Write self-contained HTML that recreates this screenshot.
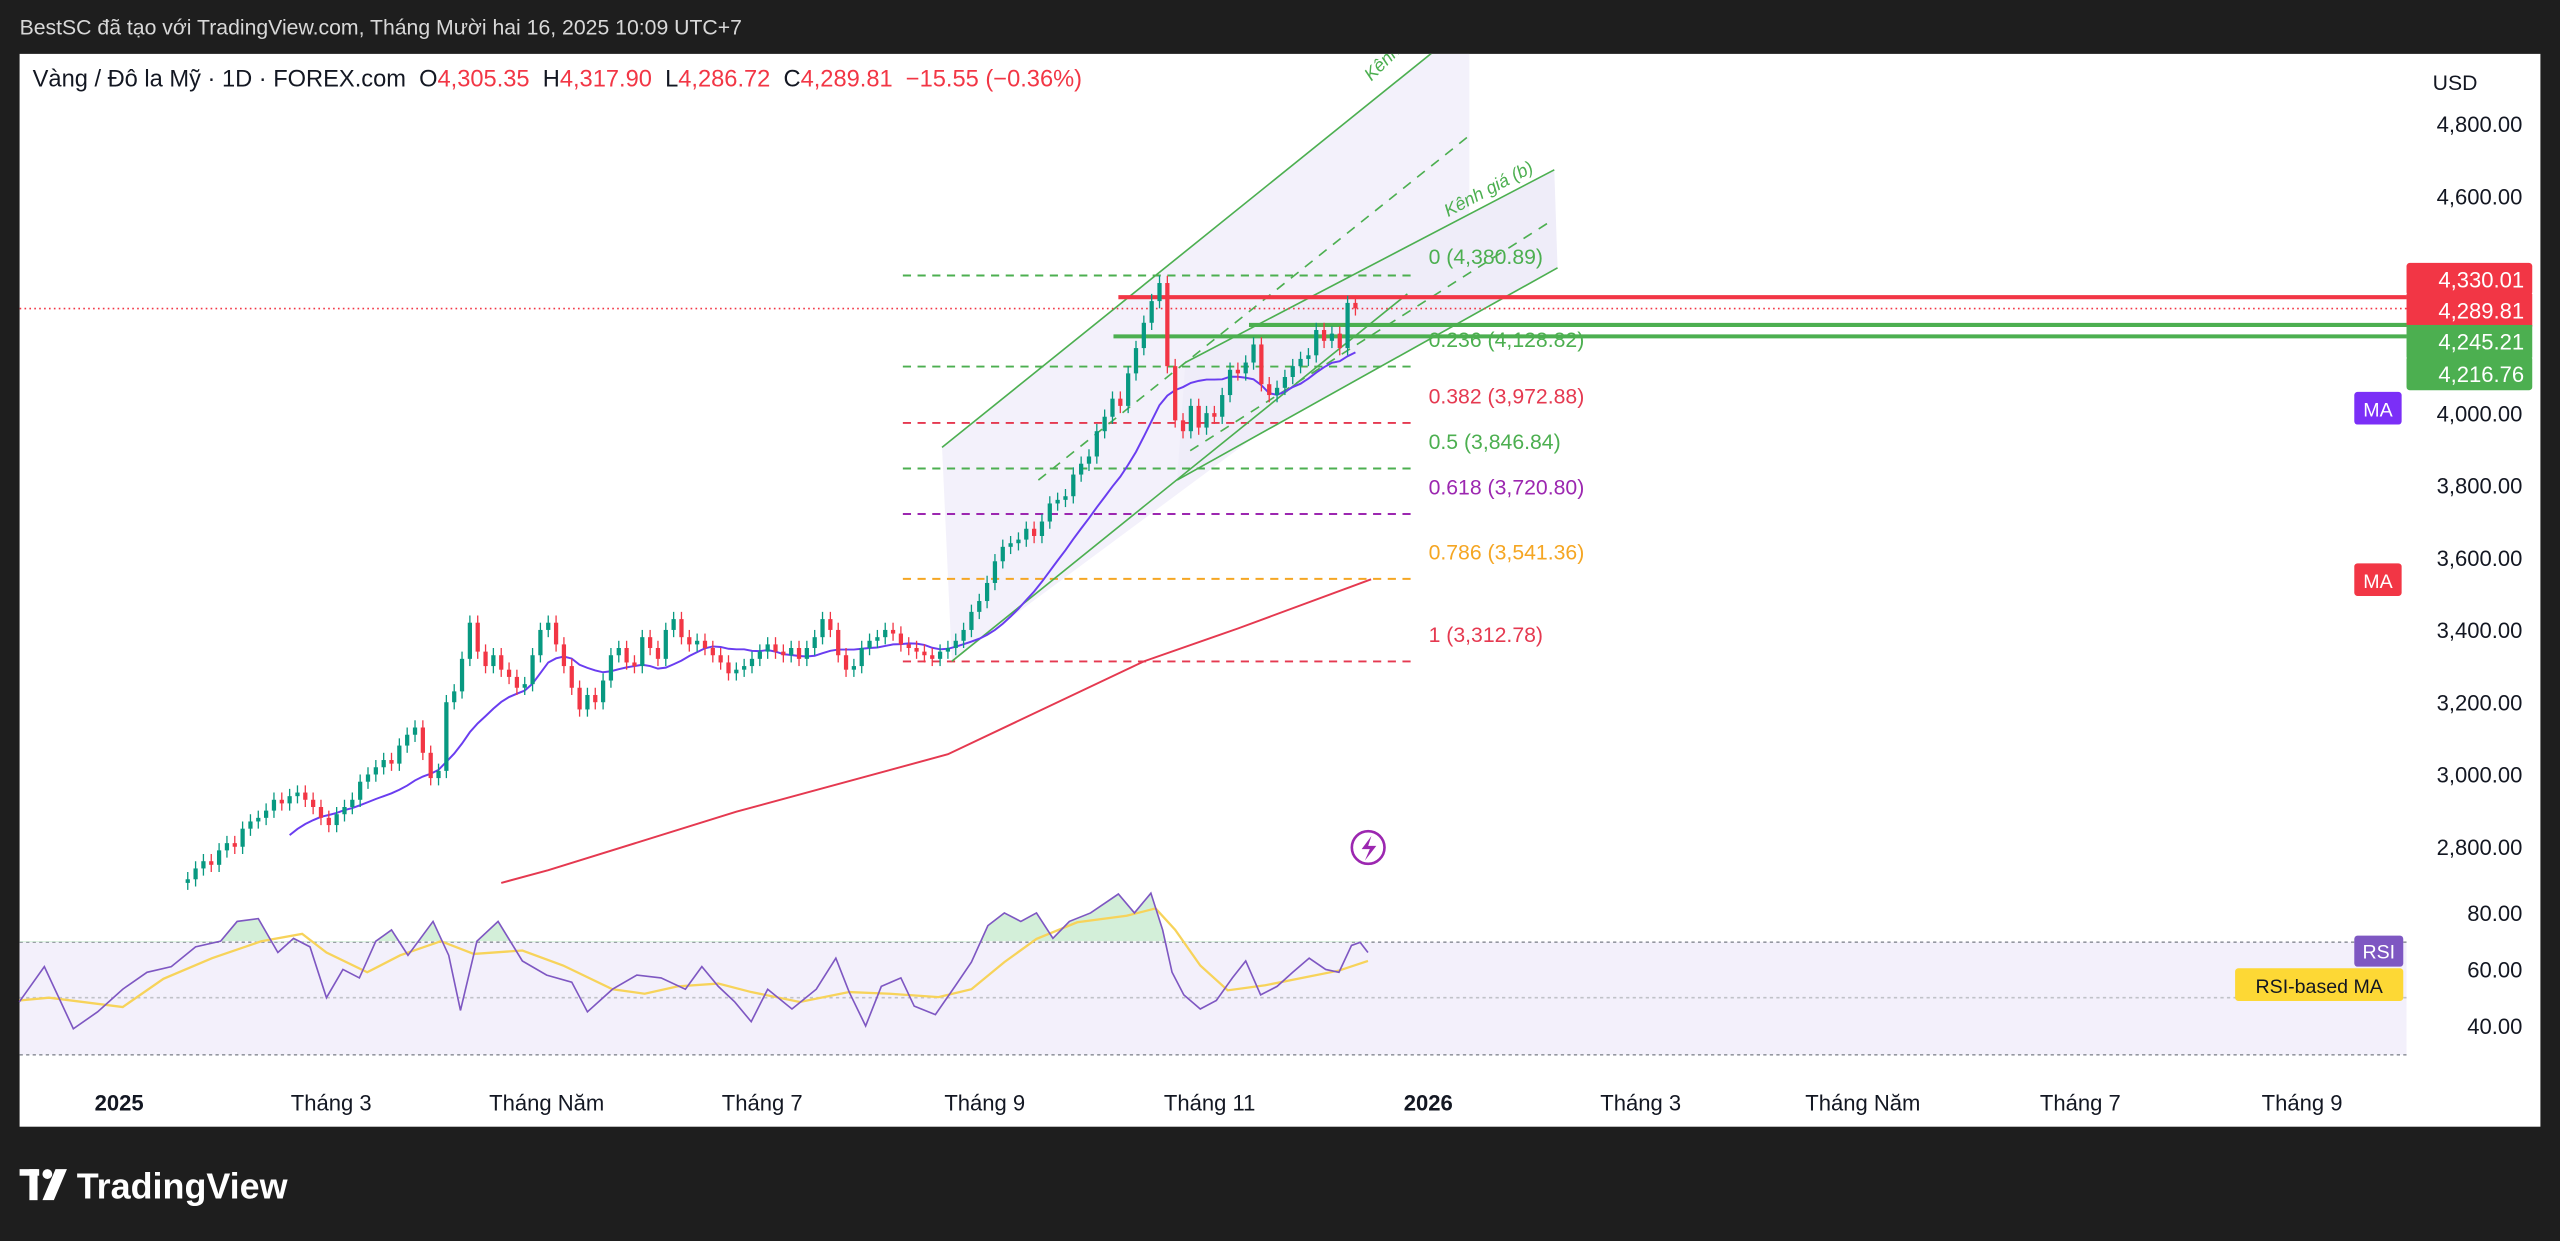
<!DOCTYPE html>
<html><head><meta charset="utf-8">
<style>
html,body{margin:0;padding:0;background:#1e1e1e;width:2560px;height:1241px;overflow:hidden}
svg{display:block}
text{font-family:"Liberation Sans","Noto Sans CJK SC",sans-serif}
</style></head>
<body>
<svg id="chart" width="2560" height="1241" viewBox="0 0 1568 760" preserveAspectRatio="none" xmlns="http://www.w3.org/2000/svg">
<rect x="0" y="0" width="1568" height="760" fill="#1e1e1e"/>
<text x="12" y="21" font-size="13" fill="#d8d8d8">BestSC đã tạo với TradingView.com, Tháng Mười hai 16, 2025 10:09 UTC+7</text>
<rect x="12" y="33" width="1544" height="657" fill="#ffffff"/>
<defs>
<clipPath id="mainClip"><rect x="12" y="33" width="1462" height="512"/></clipPath>
<clipPath id="above70"><rect x="12" y="540" width="1462" height="37"/></clipPath>
</defs>
<g id="mainPane" clip-path="url(#mainClip)">
<polygon points="577,274 876,33 900,33 900,170 583,405" fill="#f3f1fb"/>
<polygon points="726,222 952,104 954,164 721,294" fill="#efedf9"/>
<g id="fibG"></g>
<line x1="577" y1="274" x2="885" y2="26" stroke="#4caf50" stroke-width="1"/>
<line x1="636" y1="294" x2="900" y2="83" stroke="#4caf50" stroke-width="1" stroke-dasharray="6,5"/>
<line x1="583" y1="405" x2="862" y2="180" stroke="#4caf50" stroke-width="1"/>
<line x1="726" y1="222" x2="952" y2="104" stroke="#4caf50" stroke-width="1"/>
<line x1="729" y1="276" x2="949" y2="136" stroke="#4caf50" stroke-width="1" stroke-dasharray="6,5"/>
<line x1="721" y1="294" x2="954" y2="164" stroke="#4caf50" stroke-width="1"/>
<text x="0" y="0" font-size="11" fill="#4caf50" font-style="italic" transform="translate(840,50) rotate(-45)">Kênh giá</text>
<text x="0" y="0" font-size="11" fill="#4caf50" font-style="italic" transform="translate(887,133) rotate(-28)">Kênh giá (b)</text>
<line x1="12" y1="189" x2="1474" y2="189" stroke="#f23645" stroke-width="1" stroke-dasharray="1,2"/>
<line x1="685" y1="182" x2="1474" y2="182" stroke="#f23645" stroke-width="2.5"/>
<line x1="765" y1="199" x2="1474" y2="199" stroke="#4caf50" stroke-width="2.5"/>
<line x1="682" y1="206" x2="1474" y2="206" stroke="#4caf50" stroke-width="2.5"/>
<g id="ma200G"></g>
<g id="maG"></g>
<g id="candleG"></g>
</g>
<g id="rsiPane">
<rect x="12" y="577" width="1462" height="69" fill="#f3f0fb"/>
<line x1="12" y1="577" x2="1474" y2="577" stroke="#9598a1" stroke-dasharray="2,2"/>
<line x1="12" y1="611" x2="1474" y2="611" stroke="#c0c2c8" stroke-dasharray="2,2"/>
<line x1="12" y1="646" x2="1474" y2="646" stroke="#9598a1" stroke-dasharray="2,2"/>
<g id="rsiG"></g>
</g>
<g id="axisG"></g>
<text x="1490" y="55" font-size="13" fill="#131722">USD</text>
<text x="20" y="53" font-size="14.5" fill="#131722" xml:space="preserve">Vàng / Đô la Mỹ · 1D · FOREX.com  <tspan>O</tspan><tspan fill="#f23645">4,305.35</tspan>  <tspan>H</tspan><tspan fill="#f23645">4,317.90</tspan>  <tspan>L</tspan><tspan fill="#f23645">4,286.72</tspan>  <tspan>C</tspan><tspan fill="#f23645">4,289.81  −15.55 (−0.36%)</tspan></text>
<g>
<rect x="1474" y="161" width="77" height="20" rx="2" fill="#f23645"/>
<text x="1546" y="176" font-size="13.5" fill="#fff" text-anchor="end">4,330.01</text>
<rect x="1474" y="180" width="77" height="20" fill="#f23645"/>
<text x="1546" y="195" font-size="13.5" fill="#fff" text-anchor="end">4,289.81</text>
<rect x="1474" y="199" width="77" height="20" fill="#4caf50"/>
<text x="1546" y="214" font-size="13.5" fill="#fff" text-anchor="end">4,245.21</text>
<rect x="1474" y="218" width="77" height="21" rx="2" fill="#4caf50"/>
<text x="1546" y="234" font-size="13.5" fill="#fff" text-anchor="end">4,216.76</text>
<rect x="1442" y="240" width="29" height="20" rx="2" fill="#7b2ff7"/>
<text x="1456.5" y="255" font-size="12" fill="#fff" text-anchor="middle">MA</text>
<rect x="1442" y="345" width="29" height="20" rx="2" fill="#f23645"/>
<text x="1456.5" y="360" font-size="12" fill="#fff" text-anchor="middle">MA</text>
<rect x="1442" y="573" width="30" height="19" rx="2" fill="#7e57c2"/>
<text x="1457" y="587" font-size="12" fill="#fff" text-anchor="middle">RSI</text>
<rect x="1369" y="593" width="103" height="20" rx="2" fill="#fdd835"/>
<text x="1420.5" y="608" font-size="12" fill="#131722" text-anchor="middle">RSI-based MA</text>
</g>
<circle cx="838" cy="519" r="10" fill="#fff" stroke="#9c27b0" stroke-width="1.6"/>
<path d="M840,512 L834,520 L839,520 L836,527 L843,518 L838,518 Z" fill="#9c27b0"/>
<g id="timeG"></g>
<g>
<rect x="12" y="716" width="12" height="4" fill="#fff"/>
<rect x="18" y="716" width="5" height="19" fill="#fff"/>
<circle cx="29" cy="719" r="3" fill="#fff"/>
<polygon points="34,716 41,716 33,735 26,735" fill="#fff"/>
<text x="47" y="734" font-size="22" font-weight="bold" fill="#ffffff">TradingView</text>
</g>
</svg>
<script>
const closes = [2710,2740,2760,2750,2790,2810,2800,2850,2870,2880,
2900,2930,2920,2940,2950,2930,2910,2880,2860,
2890,2910,2930,2980,3000,3020,3040,3030,3080,
3110,3130,3060,2990,3010,3200,3230,3320,
3420,3340,3300,3330,3290,3270,3240,3250,3330,3400,
3420,3360,3300,3240,3180,3220,3200,3260,3330,3350,
3310,3300,3380,3350,3320,3400,3430,3380,3360,3370,
3350,3330,3310,3280,3290,3300,3320,3340,
3360,3340,3330,3350,3320,3350,3380,3430,3400,3330,
3290,3300,3350,3370,3380,3400,3390,3360,3350,
3340,3330,3320,3340,3350,3370,3400,3450,3480,
3530,3590,3630,3640,3650,3680,3660,3700,3750,3760,3770,
3830,3860,3880,3950,3990,4040,4020,4110,4180,4250,4310,4360,4130,3980,3950,4020,3960,4000,
3990,4050,4120,4110,4140,4190,4080,4050,4070,4100,
4130,4150,4160,4230,4200,4220,4180,4305,4290];
const firstOpen = 2700;
const wickSize = 20;
const maWindow = 14;
const ma200Idx = [40,46,70,97,122,134,151];
const ma200Val = [2700,2735,2897,3056,3313,3404,3540];
const fibRatios = ["0","0.236","0.382","0.5","0.618","0.786","1"];
const fibPrices = [4380.89,4128.82,3972.88,3846.84,3720.80,3541.36,3312.78];
const fibLabels = ["0 (4,380.89)","0.236 (4,128.82)","0.382 (3,972.88)","0.5 (3,846.84)","0.618 (3,720.80)","0.786 (3,541.36)","1 (3,312.78)"];
const fibColors = ["#4caf50","#4caf50","#e53950","#4caf50","#9c27b0","#f5a623","#e53950"];
const priceTicks = [4800,4600,4000,3800,3600,3400,3200,3000,2800];
const priceTickLabels = ["4,800.00","4,600.00","4,000.00","3,800.00","3,600.00","3,400.00","3,200.00","3,000.00","2,800.00"];
const rsiTicks = [80,60,40];
const rsiTickLabels = ["80.00","60.00","40.00"];
const rsiIdx = [-21.5,-18.3,-14.6,-11.5,-8.3,-5.2,-2.1,1,4.2,6.3,9,11.5,13.5,15.6,17.7,19.8,21.9,24,26,28.1,31.3,33.3,34.8,36.9,39.6,42.7,45.8,49,51,54.2,57.3,60.4,63.5,65.6,67.7,69.8,71.9,74,77.1,80.2,82.7,84.4,86.5,88.5,91,92.7,95.4,97.9,100,102.1,104.2,106.3,108.3,110.4,112.5,115.2,118.75,120.8,122.9,124.4,125.6,127.1,129.2,131.25,133.3,135,136.9,139,141,143.1,145.2,146.9,148.5,149.6,150.6];
const rsiVal = [48.5,61,39,45,53,59,61,68,70,77,78,66,71,68,50,60,57,70,74,65,77,65,45.5,70,77,63,58,55.5,45,53,58,57,53,61,54,48.5,41.5,53,46,53,64,52,40,54,57,47,44,54,62.6,75.5,80,77,80,71,77,80,86.7,80,87,74,59,51,46,49,57,63,51,54,59,64,60,59,68.5,69.6,66];
const rsiMaIdx = [-21.5,-17.7,-8.3,-3.1,3.1,9.4,14.6,17.7,22.9,27.1,32.3,36.5,42.7,47.9,54.2,58.3,62.5,67.7,71.9,78.1,84.4,89.6,95.8,100,104.2,108.3,113.5,119.8,123.5,126,129.2,132.7,137.5,142.7,146.9,150.6];
const rsiMaVal = [49,50,46.7,56.7,64,70,72.6,66,59,65,70,65.5,66.7,61.4,53,51.4,54,55,52,48.5,52,51.4,50.2,53,62.6,70.8,76.7,79,81.6,74,61.4,52.6,54.4,57.3,59.6,63];
const timeLabels = ["2025","Tháng 3","Tháng Năm","Tháng 7","Tháng 9","Tháng 11","2026","Tháng 3","Tháng Năm","Tháng 7","Tháng 9"];
const timeBold = [true,false,false,false,false,false,true,false,false,false,false];
const timeIdx = [-8.75,18.3,45.8,73.3,101.7,130.4,158.3,185.4,213.75,241.5,269.8];

const NS = "http://www.w3.org/2000/svg";
const xOf = i => 115 + i * 4.8;
const yOf = p => 253 + (4000 - p) * 0.2213;
const rY = v => 611 - (v - 50) * 1.73;
function mk(tag, attrs, parent){const e=document.createElementNS(NS,tag);for(const k in attrs)e.setAttribute(k,attrs[k]);parent.appendChild(e);return e;}

const fibG = document.getElementById('fibG');
fibPrices.forEach((p,k)=>{
  const l = mk('line',{x1:553,x2:865,y1:yOf(p),y2:yOf(p),stroke:fibColors[k],'stroke-width':1.2,'stroke-dasharray':'5,4'},fibG);
  
  
  const t = mk('text',{x:875,y:yOf(p)-(k===0?7:12),'font-size':13,fill:fibColors[k]},fibG);
  t.textContent = fibLabels[k];
  
  
});

const cg = document.getElementById('candleG');
closes.forEach((c,i)=>{
  const o = i===0 ? firstOpen : closes[i-1];
  const up = c >= o;
  const col = up ? '#089981' : '#f23645';
  const x = xOf(i);
  const hi = Math.max(o,c)+wickSize, lo = Math.min(o,c)-wickSize;
  const w = mk('line',{x1:x,x2:x,y1:yOf(hi),y2:yOf(lo),stroke:col,'stroke-width':0.8},cg);
  
  
  const top = yOf(Math.max(o,c)), bot = yOf(Math.min(o,c));
  const b = mk('rect',{x:x-1.3,y:top,width:2.6,height:Math.max(bot-top,0.8),fill:col},cg);
  
  
});

let pts=[];
for(let i=maWindow-1;i<closes.length;i++){let s=0;for(let j=i-maWindow+1;j<=i;j++)s+=closes[j];pts.push(xOf(i)+','+yOf(s/maWindow));}
const maL = mk('polyline',{points:pts.join(' '),fill:'none',stroke:'#6a3df0','stroke-width':1.2},document.getElementById('maG'));



const m2 = mk('polyline',{points:ma200Idx.map((i,k)=>xOf(i)+','+yOf(ma200Val[k])).join(' '),fill:'none',stroke:'#e53950','stroke-width':1.2},document.getElementById('ma200G'));



const rg = document.getElementById('rsiG');
const rpts = rsiIdx.map((i,k)=>xOf(i)+','+rY(rsiVal[k]));
const fillPoly = mk('polygon',{points:xOf(rsiIdx[0])+','+rY(70)+' '+rpts.join(' ')+' '+xOf(rsiIdx[rsiIdx.length-1])+','+rY(70),fill:'#c8ebd0','fill-opacity':0.8,'clip-path':'url(#above70)'},rg);


const rmaL = mk('polyline',{points:rsiMaIdx.map((i,k)=>xOf(i)+','+rY(rsiMaVal[k])).join(' '),fill:'none',stroke:'#f7d35a','stroke-width':1.4},rg);


const rL = mk('polyline',{points:rpts.join(' '),fill:'none',stroke:'#7e57c2','stroke-width':1},rg);



const ag = document.getElementById('axisG');
priceTicks.forEach((p,k)=>{
  const t = mk('text',{x:1545,y:yOf(p)+5,'font-size':13.5,fill:'#131722','text-anchor':'end'},ag);
  t.textContent = priceTickLabels[k];
  
  
});
rsiTicks.forEach((v,k)=>{
  const t = mk('text',{x:1545,y:rY(v)+5,'font-size':13.5,fill:'#131722','text-anchor':'end'},ag);
  t.textContent = rsiTickLabels[k];
  
  
});
const tg = document.getElementById('timeG');
timeLabels.forEach((s,k)=>{
  const t = mk('text',{x:xOf(timeIdx[k]),y:680,'font-size':13.5,fill:'#131722','text-anchor':'middle','font-weight':timeBold[k]?'bold':'normal'},tg);
  t.textContent = s;
  
  
});
</script>
</body></html>
